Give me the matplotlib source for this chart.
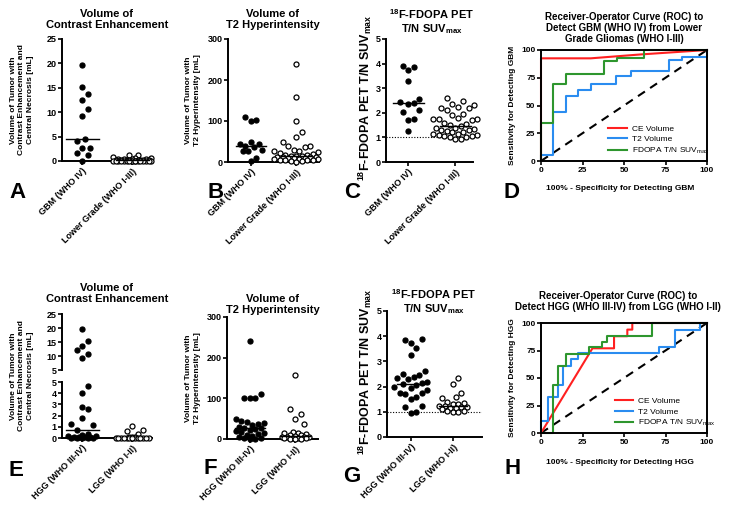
import numpy as np
import matplotlib
matplotlib.use('Agg')
import matplotlib.pyplot as plt

plt.rcParams['font.family'] = ['Liberation Sans', 'DejaVu Sans']
plt.rcParams['font.weight'] = 'bold'
plt.rcParams['mathtext.fontset'] = 'custom'
plt.rcParams['mathtext.rm'] = 'Liberation Sans:bold'
plt.rcParams['mathtext.it'] = 'Liberation Sans:bold'
plt.rcParams['mathtext.bf'] = 'Liberation Sans:bold'
plt.rcParams['mathtext.sf'] = 'Liberation Sans:regular'
plt.rcParams['mathtext.default'] = 'rm'

W, H = 740, 508

# ---- column scatter data ----
a_gbm = [19.7, 15.2, 13.7, 12.4, 10.6, 9.2, 4.6, 4.0, 2.7, 2.6, 1.7, 1.3, 0.0]
a_lower = [1.2, 1.2, 0.9, 0.7, 0.6, 0.5, 0.45, 0.4, 0.35, 0.3, 0.3, 0.25, 0.2, 0.2,
           0.2, 0.15, 0.15, 0.1, 0.1, 0.1, 0.1, 0.05, 0.05, 0.05, 0.0, 0.0, 0.0,
           0.0, 0.0, 0.0, 0.0, 0.0, 0.0, 0.0]
b_gbm = [110, 103, 100, 48, 45, 44, 38, 37, 30, 28, 27, 10, 2]
b_lower = [240, 158, 100, 73, 62, 50, 38, 38, 36, 30, 28, 26, 25, 22, 20, 18, 16,
           15, 15, 14, 13, 12, 12, 11, 10, 10, 9, 8, 8, 7, 6, 5, 5, 4, 3, 2, 1]
c_gbm = [3.9, 3.85, 3.75, 3.3, 2.55, 2.45, 2.4, 2.35, 2.1, 2.05, 1.75, 1.7, 1.25]
c_lower = [2.6, 2.5, 2.35, 2.3, 2.25, 2.2, 2.2, 2.1, 1.95, 1.9, 1.8, 1.75, 1.75,
           1.75, 1.7, 1.6, 1.55, 1.5, 1.45, 1.4, 1.4, 1.35, 1.3, 1.3, 1.25, 1.2,
           1.2, 1.15, 1.15, 1.1, 1.1, 1.05, 1.05, 1.0, 1.0, 0.95, 0.95]

e_hgg = [19.7, 15.2, 13.7, 12.3, 10.6, 9.2, 4.6, 4.0, 2.75, 2.55, 1.75, 1.25, 1.15,
         0.75, 0.4, 0.3, 0.2, 0.15, 0.1, 0.1, 0.05, 0.05, 0.0, 0.0, 0.0, 0.0, 0.0]
e_lgg = [1.1, 0.7, 0.6, 0.35, 0.1, 0.05, 0.05, 0.0, 0.0, 0.0, 0.0, 0.0, 0.0, 0.0,
         0.0, 0.0, 0.0, 0.0, 0.0, 0.0, 0.0]
f_hgg = [240, 110, 102, 100, 100, 50, 45, 42, 40, 38, 35, 30, 28, 26, 25, 22, 20,
         18, 15, 12, 10, 8, 5, 3, 2, 1, 0.5]
f_lgg = [158, 73, 62, 50, 38, 16, 15, 14, 12, 10, 10, 8, 6, 5, 5, 4, 3, 3, 2, 2,
         1, 1, 0.5]
g_hgg = [3.9, 3.85, 3.75, 3.55, 3.25, 2.6, 2.5, 2.45, 2.4, 2.35, 2.3, 2.2, 2.15,
         2.1, 2.05, 2.0, 1.95, 1.85, 1.75, 1.75, 1.7, 1.6, 1.5, 1.25, 1.2, 1.0, 0.95]
g_lgg = [2.35, 2.1, 1.75, 1.6, 1.55, 1.4, 1.35, 1.3, 1.3, 1.25, 1.25, 1.2, 1.2,
         1.15, 1.15, 1.1, 1.05, 1.05, 1.0, 1.0]

cats_top = ['GBM (WHO IV)', 'Lower Grade (WHO I-III)']
cats_bot = ['HGG (WHO III-IV)', 'LGG (WHO I-II)']

# ---- ROC data: 100% - specificity (x) and sensitivity (y) ----
d_ce_x = [0, 0, 30, 60, 100]
d_ce_y = [0, 92.5, 92.5, 96, 100]
d_t2_x = [0, 0, 7, 7, 15, 15, 22, 22, 30, 30, 45, 45, 54, 54, 77, 77, 85, 85, 100, 100]
d_t2_y = [0, 5, 5, 44, 44, 59, 59, 64, 64, 69, 69, 77, 77, 81, 81, 91, 91, 94, 94, 100]
d_pet_x = [0, 0, 7, 7, 15, 15, 38, 38, 46, 46, 62, 62, 100]
d_pet_y = [0, 34, 34, 69, 69, 78, 78, 90, 90, 93, 93, 100, 100]

h_ce_x = [0, 31, 44, 44, 52, 52, 55, 55, 100]
h_ce_y = [0, 77, 77, 88, 88, 94, 94, 100, 100]
h_t2_x = [0, 0, 4, 4, 10, 10, 13, 13, 18, 18, 22, 22, 71, 71, 81, 81, 96, 96, 100]
h_t2_y = [0, 11, 11, 33, 33, 44, 44, 61, 61, 67, 67, 73, 73, 78, 78, 94, 94, 100, 100]
h_pet_x = [0, 7, 7, 10, 10, 15, 15, 29, 29, 37, 37, 40, 40, 67, 67, 100]
h_pet_y = [0, 0, 44, 44, 61, 61, 72, 72, 78, 78, 83, 83, 88, 88, 100, 100]

roc_labels = ['CE Volume', 'T2 Volume', r'$\mathsf{FDOPA\ T/N\ SUV_{max}}$']
roc_colors = ['#ff2020', '#2a8cf0', '#2e962e']

pet_title = r'$\mathrm{^{18}F\text{-}FDOPA\ PET}$' + '\n' + r'$\mathrm{T/N\ SUV_{max}}$'
pet_ylabel = r'$\mathrm{^{18}F\text{-}FDOPA\ PET\ T/N\ SUV_{max}}$'

fig = plt.figure(figsize=(W / 100, H / 100), dpi=100)


def add_ax(x0, y0, x1, y1):
    return fig.add_axes([x0 / W, 1 - y1 / H, (x1 - x0) / W, (y1 - y0) / H])


def ftext(x, y, s, **kw):
    return fig.text(x / W, 1 - y / H, s, **kw)


def swarm(vals, ppu_y, ppu_x, d=5.5, max_px=22, yfac=2.0):
    # spread points sideways so that near-equal values do not sit on each other
    y = np.asarray(vals, float) * ppu_y / yfac
    order = np.argsort(y)
    cands = [0.0]
    k = 1
    while k * d * 0.5 <= max_px:
        cands += [k * d * 0.5, -k * d * 0.5]
        k += 1
    px, py = [], []
    out = np.zeros(len(y))
    for i in order:
        best, best_score = 0.0, -1
        for c in cands:
            dist = np.min(np.hypot(np.array(px) - c, np.array(py) - y[i])) if px else np.inf
            if dist >= d:
                best = c
                break
            if dist > best_score:
                best_score, best = dist, c
        px.append(best)
        py.append(y[i])
        out[i] = best / ppu_x
    return out


def style_ax(ax, lw=1.4):
    for s in ['top', 'right']:
        ax.spines[s].set_visible(False)
    for s in ['left', 'bottom']:
        ax.spines[s].set_linewidth(lw)
    ax.tick_params(direction='out', width=1.2, length=3, labelsize=6.5, pad=1)


def draw_points(ax, pos, vals, filled, ylim, xlim, max_px):
    bb = ax.get_position()
    ppu_y = bb.height * H / (ylim[1] - ylim[0])
    ppu_x = bb.width * W / (xlim[1] - xlim[0])
    vals = np.asarray(vals, float)
    offs = swarm(vals - ylim[0], ppu_y, ppu_x, max_px=max_px)
    ax.scatter(pos + offs, vals, s=13, facecolor='black' if filled else 'white',
               edgecolor='black', linewidth=0.9, clip_on=False, zorder=3)


def column_scatter(ax, groups, fills, ylim, yticks, xlim, cats, spreads):
    for i, (vals, filled, sp) in enumerate(zip(groups, fills, spreads)):
        draw_points(ax, i, vals, filled, ylim, xlim, sp)
        med = np.median(vals)
        ax.plot([i - 0.33, i + 0.33], [med, med], color='black', lw=1, zorder=4,
                clip_on=False)
    ax.set_xlim(xlim)
    ax.set_ylim(ylim)
    ax.set_yticks(yticks)
    ax.set_xticks(range(len(cats)))
    ax.set_xticklabels(cats, rotation=45, ha='right', rotation_mode='anchor',
                       fontsize=6.5)
    style_ax(ax)


def roc_panel(ax, curves, anchor):
    ax.plot([0, 100], [0, 100], color='black', lw=1.5, dashes=(4, 3))
    for (x, y), col, lab in zip(curves, roc_colors, roc_labels):
        ax.plot(x, y, color=col, lw=1.5, label=lab, clip_on=False)
    ax.set_xlim(0, 100)
    ax.set_ylim(0, 100)
    ax.set_xticks([0, 25, 50, 75, 100])
    ax.set_yticks([0, 25, 50, 75, 100])
    for s in ax.spines.values():
        s.set_linewidth(1.4)
    ax.tick_params(direction='out', width=1.2, length=3, labelsize=6, pad=1)
    ax.legend(loc='upper left', bbox_to_anchor=anchor, frameon=False,
              prop={'weight': 'normal', 'size': 6}, handlelength=2.2,
              labelspacing=0.3, borderpad=0, handletextpad=0.6)


# ---------------- top row ----------------
axA = add_ax(62, 39, 152, 161)
column_scatter(axA, [a_gbm, a_lower], [True, False], (0, 25), [0, 5, 10, 15, 20, 25],
               (-0.4, 1.4), cats_top, [10, 20])
axB = add_ax(228, 39, 319, 162)
column_scatter(axB, [b_gbm, b_lower], [True, False], (0, 300), [0, 100, 200, 300],
               (-0.5, 1.5), cats_top, [12, 22])
axC = add_ax(386, 39, 473, 162)
column_scatter(axC, [c_gbm, c_lower], [True, False], (0, 5), [0, 1, 2, 3, 4, 5],
               (-0.47, 1.38), cats_top, [12, 22])
axC.axhline(1, color='black', lw=0.8, ls=(0, (1, 1.5)), zorder=2)

axD = add_ax(541, 50, 707, 161)
roc_panel(axD, [(d_ce_x, d_ce_y), (d_t2_x, d_t2_y), (d_pet_x, d_pet_y)], (0.38, 0.36))

# ---------------- bottom row ----------------
axE_hi = add_ax(62, 314, 152, 370)
axE_lo = add_ax(62, 382, 152, 438)
e_xlim = (-0.4, 1.4)
for i, (vals, filled, sp) in enumerate(zip([e_hgg, e_lgg], [True, False], [14, 18])):
    v = np.asarray(vals, float)
    hi = v[v > 5]
    lo = v[v <= 5]
    if len(hi):
        draw_points(axE_hi, i, hi, filled, (5, 25), e_xlim, sp)
    draw_points(axE_lo, i, lo, filled, (0, 5), e_xlim, sp)
    med = np.median(v)
    axE_lo.plot([i - 0.33, i + 0.33], [med, med], color='black', lw=1, zorder=4)
axE_hi.set_xlim(e_xlim)
axE_hi.set_ylim(5, 25)
axE_hi.set_yticks([5, 10, 15, 20, 25])
axE_hi.set_xticks([])
style_ax(axE_hi)
axE_hi.spines['bottom'].set_visible(False)
axE_lo.set_xlim(e_xlim)
axE_lo.set_ylim(0, 5)
axE_lo.set_yticks([0, 1, 2, 3, 4, 5])
axE_lo.set_xticks([0, 1])
axE_lo.set_xticklabels(cats_bot, rotation=45, ha='right', rotation_mode='anchor',
                       fontsize=6.5)
style_ax(axE_lo)

axF = add_ax(227, 317, 318, 439)
column_scatter(axF, [f_hgg, f_lgg], [True, False], (0, 300), [0, 100, 200, 300],
               (-0.5, 1.5), cats_bot, [16, 16])
axG = add_ax(387, 311, 482, 437)
column_scatter(axG, [g_hgg, g_lgg], [True, False], (0, 5), [0, 1, 2, 3, 4, 5],
               (-0.57, 1.69), cats_bot, [18, 16])
axG.axhline(1, color='black', lw=0.8, ls=(0, (1, 1.5)), zorder=2)

axH = add_ax(541, 323, 707, 433)
roc_panel(axH, [(h_ce_x, h_ce_y), (h_t2_x, h_t2_y), (h_pet_x, h_pet_y)], (0.42, 0.36))

# ---------------- titles ----------------
tkw = dict(ha='center', va='bottom', fontsize=8, linespacing=1.1)
ftext(107, 30, 'Volume of\nContrast Enhancement', **tkw)
ftext(273, 30, 'Volume of\nT2 Hyperintensity', **tkw)
ftext(432, 36, pet_title, **tkw)
ftext(107, 304, 'Volume of\nContrast Enhancement', **tkw)
ftext(273, 315, 'Volume of\nT2 Hyperintensity', **tkw)
ftext(434, 316, pet_title, **tkw)
rkw = dict(ha='center', va='bottom', fontsize=7, linespacing=1.15)
ftext(624, 44, 'Receiver-Operator Curve (ROC) to\nDetect GBM (WHO IV) from Lower\n'
      'Grade Gliomas (WHO I-III)', **rkw)
ftext(618, 312, 'Receiver-Operator Curve (ROC) to\nDetect HGG (WHO III-IV) from LGG (WHO I-II)',
      **rkw)

# ---------------- axis labels ----------------
ykw = dict(ha='center', va='center', rotation=90, fontsize=6, linespacing=1.3)
ftext(22, 100, 'Volume of Tumor with\nContrast Enhancement and\nCentral Necrosis [mL]', **ykw)
ftext(193, 100, 'Volume of Tumor with\nT2 Hyperintensity [mL]', **ykw)
ftext(22, 376, 'Volume of Tumor with\nContrast Enhancement and\nCentral Necrosis [mL]', **ykw)
ftext(193, 378, 'Volume of Tumor with\nT2 Hyperintensity [mL]', **ykw)
pkw = dict(ha='center', va='center', rotation=90, fontsize=9)
ftext(365, 98, pet_ylabel, **pkw)
ftext(365, 372, pet_ylabel, **pkw)
ftext(512, 105, 'Sensitivity for Detecting GBM', ha='center', va='center', rotation=90,
      fontsize=6)
ftext(512, 378, 'Sensitivity for Detecting HGG', ha='center', va='center', rotation=90,
      fontsize=6)
ftext(620, 188, '100% - Specificity for Detecting GBM', ha='center', va='center', fontsize=6)
ftext(620, 462, '100% - Specificity for Detecting HGG', ha='center', va='center', fontsize=6)

# ---------------- panel letters ----------------
lkw = dict(ha='center', va='center', fontsize=16)
for letter, x, y in [('A', 18, 193), ('B', 216, 193), ('C', 352, 193), ('D', 511, 193),
                     ('E', 16, 470), ('F', 210, 468), ('G', 352, 476), ('H', 513, 468)]:
    ftext(x, y, letter, **lkw)

fig.savefig('out.png', dpi=100)
